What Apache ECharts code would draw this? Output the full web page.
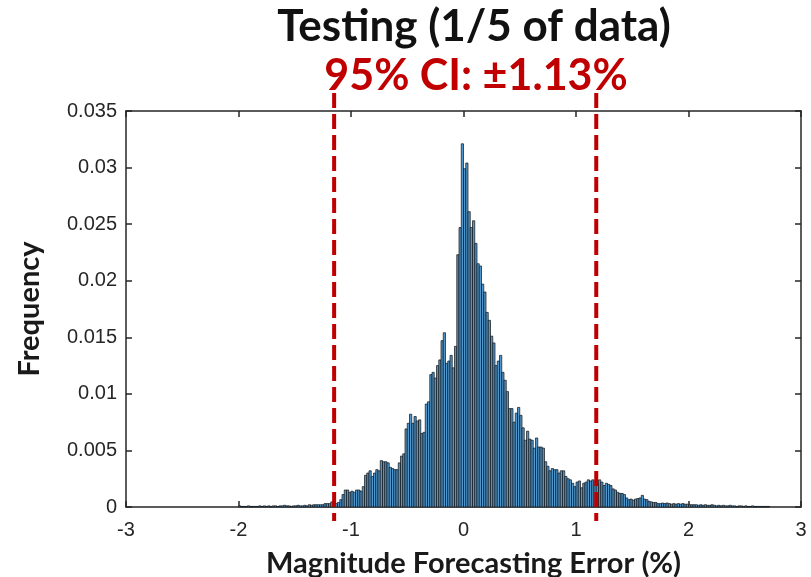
<!DOCTYPE html>
<html><head><meta charset="utf-8">
<script src="https://cdn.jsdelivr.net/npm/echarts@6/dist/echarts.min.js"></script>
<style>html,body{margin:0;padding:0;background:#fff}#c{width:811px;height:577px}</style>
</head><body><div id="c"></div>
<script>
// Histogram bins: first bin left edge and width (x in %)
const binStart = -2.0;
const binWidth = 0.02;
// Frequencies, left to right (bins from -2.00 to 2.72)
const freqLeftTail = [0.0001,0.00005,0.00005,0.00005,0.0001,0.00005,0.00005,0.00005,0.00005,0.0001,
  0.00005,0.0001,0.00005,0.0001,0.00005,0.0001,0.0001,0.00005,0.0001,0.0001,
  0.00015,0.0001,0.0001,0.00005,0.0001,0.0001,0.00015,0.0001,0.0001,0.00015,
  0.0001,0.0002,0.00015,0.0002,0.0002,0.0002];
const freqLeft = [0.0002,0.0002,0.0003,0.0003,0.0003,0.00045,0.00045,0.0003,0.0004,0.00065,
  0.0011,0.0015,0.0015,0.0013,0.0014,0.0013,0.0015,0.0015,0.0014,0.0018,
  0.0028,0.0030,0.0032,0.0027,0.0030,0.0033,0.0032,0.0041,0.0040,0.0040,
  0.0039,0.0035,0.0034,0.0033,0.0033,0.0039,0.0045,0.0047,0.0069,0.0074,
  0.0082,0.0074,0.0080,0.0076,0.0077,0.0065,0.0066,0.0091,0.0093,0.0117,
  0.0119,0.0114,0.0125,0.0130,0.0147,0.0154,0.0127,0.0129,0.0134,0.0123,
  0.0142,0.0223,0.0247];
const freqRight = [0.0321,0.0299,0.0304,0.0261,0.0247,0.0253,0.0233,0.0215,0.0213,0.0197,
  0.0190,0.0172,0.0165,0.0151,0.0145,0.0125,0.0129,0.0134,0.0119,0.0112,
  0.0102,0.0087,0.0087,0.0075,0.0083,0.0088,0.0081,0.0070,0.0059,0.0067,
  0.0060,0.0059,0.0052,0.0061,0.0053,0.0053,0.0052,0.0040,0.0036,0.0032,
  0.0034,0.0033,0.0033,0.0030,0.0032,0.0032,0.0027,0.0025,0.0024,0.0021,
  0.0018,0.0022,0.0023,0.0017,0.0021,0.0022,0.0024,0.0023,0.0024,0.0023,
  0.0021,0.0024,0.0022,0.0019,0.0021,0.0020,0.0019,0.0016,0.0015,0.0013,
  0.0012,0.0012,0.0011,0.0008,0.00065,0.0007,0.0006,0.0007,0.00075,0.0008,
  0.00103,0.0007,0.00065,0.0005,0.00045,0.0004,0.0004,0.0003,0.0003,0.00035,
  0.0003,0.00035,0.0003,0.00025,0.0003,0.00025,0.0003,0.00025,0.0003,0.00025,
  0.00025,0.0002,0.0002,0.0002];
const freqRightTail = [0.0002,0.00015,0.0002,0.00015,0.0002,0.00015,0.00015,0.0002,0.00015,0.0001,
  0.00015,0.0001,0.00015,0.0001,0.0001,0.00015,0.0001,0.0001,0.00005,0.0001,
  0.0001,0.00005,0.0001,0.00005,0.00005,0.0001,0.00005,0.00005,0.00005,0.00005,
  0.00005,0.00005,0.00005];
const ciLines = [-1.15, 1.18];
const titleText = 'Testing (1/5 of data)';
const ciText = '95% CI: \u00b11.13%';
const xLabel = 'Magnitude Forecasting Error (%)';
const yLabel = 'Frequency';

const freq = freqLeftTail.concat(freqLeft, freqRight, freqRightTail);
const histData = freq.map((v, i) => [binStart + i * binWidth, binStart + (i + 1) * binWidth, v]);

const chart = echarts.init(document.getElementById('c'), null, {renderer: 'canvas'});
const axisCol = '#262626';
const tickFont = {fontFamily: 'Liberation Sans, Arial, sans-serif', fontSize: 20, color: axisCol};
const boldFont = 'Lato, "Open Sans", sans-serif';

chart.setOption({
  animation: false,
  backgroundColor: '#ffffff',
  grid: {left: 126, right: 10, top: 111, bottom: 70, containLabel: false, outerBoundsMode: 'none'},
  xAxis: [{
    type: 'value', min: -3, max: 3, interval: 1, position: 'bottom',
    axisLine: {show: true, onZero: false, lineStyle: {color: axisCol, width: 1.5}},
    axisTick: {show: true, inside: true, length: 6, lineStyle: {color: axisCol, width: 1.5}},
    axisLabel: Object.assign({margin: 13}, tickFont),
    splitLine: {show: false},
    name: xLabel, nameLocation: 'middle', nameGap: 42,
    nameTextStyle: {fontFamily: boldFont, fontWeight: 'bold', fontSize: 29, color: '#1a1a1a', padding: [0, 0, 0, 20]}
  }, {
    type: 'value', min: -3, max: 3, interval: 1, position: 'top',
    axisLine: {show: true, onZero: false, lineStyle: {color: axisCol, width: 1.5}},
    axisTick: {show: true, inside: true, length: 6, lineStyle: {color: axisCol, width: 1.5}},
    axisLabel: {show: false}, splitLine: {show: false}
  }],
  yAxis: [{
    type: 'value', min: 0, max: 0.035, interval: 0.005, position: 'left',
    axisLine: {show: true, onZero: false, lineStyle: {color: axisCol, width: 1.5}},
    axisTick: {show: true, inside: true, length: 6, lineStyle: {color: axisCol, width: 1.5}},
    axisLabel: Object.assign({margin: 9, formatter: v => String(+v.toFixed(3))}, tickFont),
    splitLine: {show: false},
    name: yLabel, nameLocation: 'middle', nameGap: 82, nameRotate: 90,
    nameTextStyle: {fontFamily: boldFont, fontWeight: 'bold', fontSize: 29, color: '#1a1a1a'}
  }, {
    type: 'value', min: 0, max: 0.035, interval: 0.005, position: 'right',
    axisLine: {show: true, onZero: false, lineStyle: {color: axisCol, width: 1.5}},
    axisTick: {show: true, inside: true, length: 6, lineStyle: {color: axisCol, width: 1.5}},
    axisLabel: {show: false}, splitLine: {show: false}
  }],
  title: [{
    text: titleText, left: 469, top: 0, textAlign: 'center',
    textStyle: {fontFamily: boldFont, fontWeight: 'bold', fontSize: 44, color: '#111111'}
  }, {
    text: ciText, left: 471, top: 50, textAlign: 'center',
    textStyle: {fontFamily: boldFont, fontWeight: 'bold', fontSize: 43, color: '#c00000'}
  }],
  series: [{
    type: 'custom',
    xAxisIndex: 0, yAxisIndex: 0,
    encode: {x: [0, 1], y: 2},
    data: histData,
    renderItem: function (params, api) {
      const p0 = api.coord([api.value(0), api.value(2)]);
      const p1 = api.coord([api.value(1), 0]);
      return {
        type: 'rect',
        shape: {x: p0[0], y: p0[1], width: p1[0] - p0[0], height: p1[1] - p0[1]},
        style: {fill: '#4e96cc', stroke: '#111111', lineWidth: 0.7}
      };
    }
  }, {
    type: 'custom',
    xAxisIndex: 0, yAxisIndex: 0,
    clip: false,
    encode: {x: 0},
    data: ciLines.map(v => [v]),
    renderItem: function (params, api) {
      const top = api.coord([api.value(0), 0.035]);
      const bot = api.coord([api.value(0), 0]);
      return {
        type: 'line',
        shape: {x1: top[0], y1: top[1] - 18, x2: bot[0], y2: bot[1] + 14},
        style: {stroke: '#c00000', lineWidth: 4, lineDash: [15, 6]}
      };
    }
  }]
});
</script>
</body></html>
